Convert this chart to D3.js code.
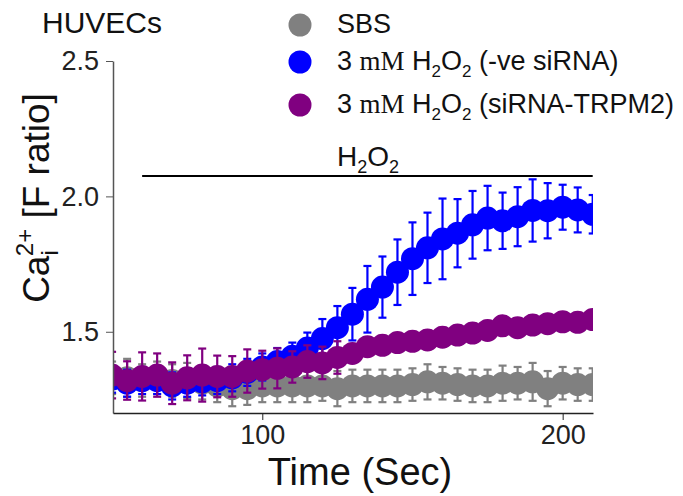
<!DOCTYPE html>
<html>
<head>
<meta charset="utf-8">
<script src="https://cdn.jsdelivr.net/npm/d3@7"></script>
<style>
  body { margin: 0; background: #fff; }
  svg { font-family: "Liberation Sans", Arial, sans-serif; }
</style>
</head>
<body>
<svg id="chart" width="683" height="496"></svg>
<script>
const times = [50, 55, 60, 65, 70, 75, 80, 85, 90, 95, 100, 105, 110, 115, 120, 125, 130, 135, 140, 145, 150, 155, 160, 165, 170, 175, 180, 185, 190, 195, 200, 205, 210];

const sbsMean = [1.33, 1.33, 1.32, 1.33, 1.32, 1.32, 1.31, 1.30, 1.29, 1.29, 1.30, 1.30, 1.30, 1.30, 1.30, 1.29, 1.30, 1.30, 1.30, 1.30, 1.305, 1.315, 1.31, 1.305, 1.30, 1.30, 1.31, 1.31, 1.315, 1.29, 1.31, 1.305, 1.305];
const sbsErr = [0.06, 0.07, 0.06, 0.06, 0.06, 0.065, 0.06, 0.06, 0.065, 0.06, 0.06, 0.06, 0.06, 0.06, 0.055, 0.065, 0.06, 0.06, 0.06, 0.06, 0.06, 0.065, 0.06, 0.06, 0.06, 0.06, 0.065, 0.06, 0.07, 0.065, 0.06, 0.06, 0.06];

const negMean = [1.325, 1.31, 1.32, 1.32, 1.30, 1.31, 1.315, 1.32, 1.33, 1.35, 1.37, 1.39, 1.41, 1.44, 1.475, 1.515, 1.565, 1.62, 1.665, 1.72, 1.77, 1.81, 1.843, 1.864, 1.895, 1.92, 1.91, 1.925, 1.948, 1.947, 1.96, 1.95, 1.934];
const negErr = [0.05, 0.05, 0.05, 0.05, 0.05, 0.05, 0.05, 0.05, 0.05, 0.05, 0.05, 0.05, 0.05, 0.057, 0.072, 0.08, 0.097, 0.123, 0.113, 0.121, 0.134, 0.13, 0.149, 0.126, 0.125, 0.119, 0.104, 0.109, 0.115, 0.102, 0.083, 0.083, 0.071];

const trpmMean = [1.34, 1.32, 1.335, 1.34, 1.31, 1.33, 1.34, 1.335, 1.335, 1.355, 1.36, 1.365, 1.37, 1.39, 1.385, 1.405, 1.42, 1.445, 1.45, 1.46, 1.465, 1.47, 1.48, 1.488, 1.495, 1.505, 1.522, 1.515, 1.525, 1.53, 1.537, 1.535, 1.545];
const trpmErr = [0.086, 0.071, 0.089, 0.08, 0.077, 0.083, 0.098, 0.077, 0.075, 0.08, 0.07, 0.074, 0.058, 0.06, 0.06, 0.06, 0.035, 0.035, 0.035, 0.035, 0.035, 0.035, 0.035, 0.035, 0.035, 0.035, 0.035, 0.035, 0.035, 0.035, 0.035, 0.035, 0.035];

const yTicks = [1.5, 2.0, 2.5];
const xTicks = [100, 200];
const stimulusRange = [60, 210];

(function () {
    const series = [
        { name: "SBS", color: "#808080", mean: sbsMean, err: sbsErr },
        { name: "neg", color: "#0000ff", mean: negMean, err: negErr },
        { name: "trpm", color: "#800080", mean: trpmMean, err: trpmErr }
    ];

    const svg = d3.select("svg#chart");
    const plotLeft = 113, plotRight = 593, plotTop = 61, plotBottom = 413;

    const x = d3.scaleLinear().domain([50.3, 210.1]).range([plotLeft, plotRight]);
    const y = d3.scaleLinear().domain([1.2, 2.5]).range([plotBottom, plotTop]);

    svg.append("defs").append("clipPath")
        .attr("id", "plot-clip")
        .append("rect")
        .attr("x", plotLeft)
        .attr("y", plotTop - 10)
        .attr("width", plotRight - plotLeft)
        .attr("height", plotBottom - plotTop + 10);

    const plot = svg.append("g").attr("clip-path", "url(#plot-clip)");

    series.forEach(s => {
        const pts = times.map((t, i) => ({ t: t, m: s.mean[i], e: s.err[i] }));
        const g = plot.append("g");
        const bars = g.selectAll("g.err").data(pts).join("g").attr("class", "err")
            .attr("stroke", s.color)
            .attr("stroke-width", 2.2);
        bars.append("line")
            .attr("x1", d => x(d.t)).attr("x2", d => x(d.t))
            .attr("y1", d => y(d.m - d.e)).attr("y2", d => y(d.m + d.e));
        bars.append("line")
            .attr("x1", d => x(d.t) - 4).attr("x2", d => x(d.t) + 4)
            .attr("y1", d => y(d.m + d.e)).attr("y2", d => y(d.m + d.e));
        bars.append("line")
            .attr("x1", d => x(d.t) - 4).attr("x2", d => x(d.t) + 4)
            .attr("y1", d => y(d.m - d.e)).attr("y2", d => y(d.m - d.e));
        g.selectAll("circle").data(pts).join("circle")
            .attr("cx", d => x(d.t))
            .attr("cy", d => y(d.m))
            .attr("r", 11.5)
            .attr("fill", s.color);
    });

    // axes
    const yAxis = svg.append("g")
        .attr("transform", `translate(${plotLeft},0)`)
        .call(d3.axisLeft(y).tickValues(yTicks).tickFormat(d3.format(".1f")).tickSize(7).tickSizeOuter(0).tickPadding(7));
    yAxis.select(".domain").attr("stroke", "#555").attr("stroke-width", 1.5);
    yAxis.selectAll(".tick line").attr("stroke", "#555");
    yAxis.selectAll("text").attr("font-size", 27).attr("fill", "#222").attr("font-family", "Liberation Sans, Arial, sans-serif");

    const xAxis = svg.append("g")
        .attr("transform", `translate(0,${plotBottom})`)
        .call(d3.axisBottom(x).tickValues(xTicks).tickSize(7).tickSizeOuter(0).tickPadding(5));
    xAxis.select(".domain").attr("stroke", "#222").attr("stroke-width", 1.5);
    xAxis.selectAll(".tick line").attr("stroke", "#222");
    xAxis.selectAll("text").attr("font-size", 27).attr("fill", "#222").attr("font-family", "Liberation Sans, Arial, sans-serif");

    svg.append("text")
        .attr("x", 360)
        .attr("y", 485)
        .attr("text-anchor", "middle")
        .attr("font-size", 38)
        .attr("fill", "#111")
        .text("Time (Sec)");

    const yTitle = svg.append("text")
        .attr("transform", "translate(49,198) rotate(-90)")
        .attr("text-anchor", "middle")
        .attr("font-size", 37)
        .attr("fill", "#111");
    yTitle.append("tspan").text("Ca");
    yTitle.append("tspan").attr("font-size", 24).attr("dy", 9).text("i");
    yTitle.append("tspan").attr("font-size", 24).attr("dx", -6).attr("dy", -25).text("2+");
    yTitle.append("tspan").attr("dy", 16).text(" [F ratio]");

    // stimulus bar
    svg.append("line")
        .attr("x1", x(stimulusRange[0]))
        .attr("x2", x(stimulusRange[1]))
        .attr("y1", 176).attr("y2", 176)
        .attr("stroke", "#000")
        .attr("stroke-width", 2);
    const stim = svg.append("text")
        .attr("x", 368)
        .attr("y", 166)
        .attr("text-anchor", "middle")
        .attr("font-size", 28)
        .attr("fill", "#111");
    stim.append("tspan").text("H");
    stim.append("tspan").attr("font-size", 18).attr("dy", 7).text("2");
    stim.append("tspan").attr("dy", -7).text("O");
    stim.append("tspan").attr("font-size", 18).attr("dy", 7).text("2");

    svg.append("text")
        .attr("x", 42)
        .attr("y", 33)
        .attr("font-size", 30)
        .attr("fill", "#111")
        .text("HUVECs");

    // legend
    const legendY = [25, 62, 105];
    const legend = svg.append("g");
    series.forEach((s, i) => {
        legend.append("circle")
            .attr("cx", 300)
            .attr("cy", legendY[i])
            .attr("r", 11.5)
            .attr("fill", s.color);
        const t = legend.append("text")
            .attr("x", 337)
            .attr("y", legendY[i] + 8)
            .attr("font-size", 27)
            .attr("fill", "#111");
        if (i === 0) {
            t.text("SBS");
        } else {
            t.append("tspan").text("3 ");
            t.append("tspan").attr("font-family", "Liberation Serif, Times New Roman, serif").text("mM");
            t.append("tspan").text(" H");
            t.append("tspan").attr("font-size", 17).attr("dy", 7).text("2");
            t.append("tspan").attr("dy", -7).text("O");
            t.append("tspan").attr("font-size", 17).attr("dy", 7).text("2");
            t.append("tspan").attr("dy", -7).text(i === 1 ? " (-ve siRNA)" : " (siRNA-TRPM2)");
        }
    });
})();
</script>
</body>
</html>
